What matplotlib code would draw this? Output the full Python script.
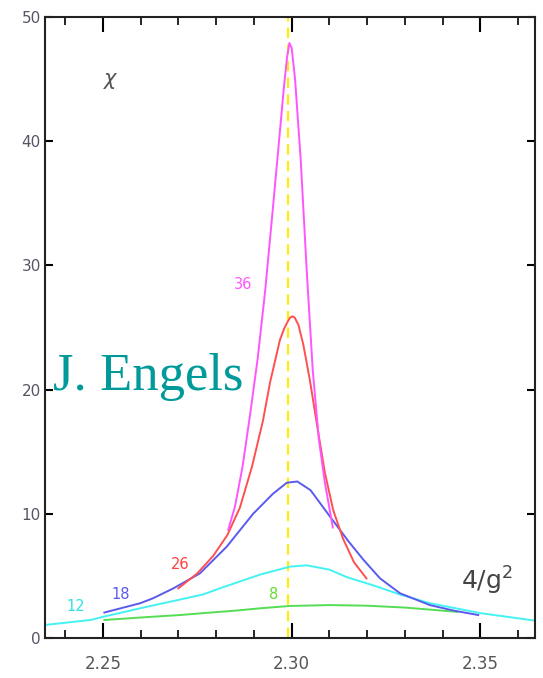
import matplotlib
matplotlib.use("Agg")
import matplotlib.pyplot as plt
from matplotlib.ticker import MultipleLocator

# chi vs 4/g^2 for the lattice sizes
x_36 = [2.2832, 2.2850, 2.2870, 2.2890, 2.2910, 2.2930, 2.2950, 2.2965, 2.2980, 2.2988, 2.2994,
        2.3000, 2.3009, 2.3024, 2.3040, 2.3056, 2.3072, 2.3088, 2.3109]
y_36 = [8.7, 10.6, 13.8, 18.0, 22.5, 28.0, 34.5, 39.5, 44.5, 46.8, 47.9,
        47.5, 45.0, 38.5, 29.5, 21.5, 16.0, 12.5, 8.9]

x_26 = [2.2700, 2.2750, 2.2792, 2.2830, 2.2863, 2.2895, 2.2924, 2.2943, 2.2969, 2.2980, 2.2990,
        2.2996, 2.3002, 2.3008, 2.3018, 2.3031, 2.3048, 2.3068, 2.3088, 2.3110, 2.3136, 2.3165,
        2.3198]
y_26 = [4.0, 5.2, 6.6, 8.3, 10.5, 13.8, 17.5, 20.6, 24.0, 24.9, 25.5,
        25.8, 25.9, 25.8, 25.2, 23.6, 20.8, 17.0, 13.3, 10.3, 8.0, 6.1,
        4.8]

x_18 = [2.2504, 2.2599, 2.2633, 2.2687, 2.2757, 2.2828, 2.2898, 2.2950, 2.2987, 2.3015,
        2.3050, 2.3101, 2.3150, 2.3190, 2.3234, 2.3287, 2.3366, 2.3430, 2.3494]
y_18 = [2.05, 2.8, 3.2, 4.0, 5.2, 7.35, 10.0, 11.6, 12.5, 12.6,
        11.9, 9.8, 7.8, 6.3, 4.8, 3.6, 2.65, 2.2, 1.85]

x_12 = [2.2347, 2.2467, 2.2500, 2.2600, 2.2705, 2.2765, 2.2810, 2.2916, 2.2996, 2.3040,
        2.3100, 2.3146, 2.3220, 2.3287, 2.3366, 2.3500, 2.3644]
y_12 = [1.05, 1.45, 1.7, 2.4, 3.1, 3.5, 4.0, 5.1, 5.75, 5.85,
        5.5, 4.9, 4.2, 3.5, 2.8, 2.0, 1.4]

x_8 = [2.2504, 2.2600, 2.2705, 2.2765, 2.2850, 2.2920, 2.2996, 2.3100, 2.3200, 2.3300, 2.3440]
y_8 = [1.45, 1.65, 1.85, 2.0, 2.2, 2.4, 2.58, 2.65, 2.6, 2.45, 2.1]

x_crit = 2.299

curves = [
    (x_12, y_12, "#44f2f2"),
    (x_8, y_8, "#55dd55"),
    (x_18, y_18, "#5a5aee"),
    (x_26, y_26, "#ff5050"),
    (x_36, y_36, "#ff55ff"),
]

labels = [
    ("36", 2.2872, 28.5, "#ff55ff"),
    ("26", 2.2705, 5.9, "#ff4040"),
    ("18", 2.2546, 3.5, "#5a5aee"),
    ("12", 2.2427, 2.5, "#33e0e0"),
    ("8", 2.2951, 3.5, "#66dd33"),
]

fig = plt.figure(figsize=(5.43, 6.78), dpi=100)
ax = fig.add_axes([0.083, 0.059, 0.902, 0.916])

ax.axvline(x_crit, color="#ffee00", linestyle="--", linewidth=1.5, dashes=(5, 3), zorder=1)

for xs, ys, col in curves:
    ax.plot(xs, ys, color=col, linewidth=1.4, zorder=2)

for txt, lx, ly, col in labels:
    ax.text(lx, ly, txt, color=col, fontsize=10.5, ha="center", va="center")

ax.text(2.252, 45, "χ", fontsize=15, color="#555555", style="italic",
        ha="center", va="center")
ax.text(2.3518, 4.6, "4/g$^2$", fontsize=18, color="#444444", ha="center", va="center")
ax.text(2.2368, 21.0, "J. Engels", fontsize=38, color="#009a9a",
        family="Liberation Serif", ha="left", va="center")

ax.set_xlim(2.2347, 2.3644)
ax.set_ylim(0, 50)
ax.xaxis.set_major_locator(MultipleLocator(0.05))
ax.xaxis.set_minor_locator(MultipleLocator(0.01))
ax.yaxis.set_major_locator(MultipleLocator(10))
ax.xaxis.set_major_formatter(plt.FuncFormatter(lambda v, p: f"{v:.2f}"))

ax.tick_params(axis="x", which="major", direction="in", length=11, width=1.5,
               top=True, pad=12, labelsize=12, labelcolor="#555555")
ax.tick_params(axis="x", which="minor", direction="in", length=6, width=1.2, top=True)
ax.tick_params(axis="y", which="major", direction="in", length=6, width=1.5,
               right=True, pad=3, labelsize=11, labelcolor="#555566")
for s in ax.spines.values():
    s.set_linewidth(1.5)
    s.set_color("#222222")

fig.savefig("out.png", dpi=100)
